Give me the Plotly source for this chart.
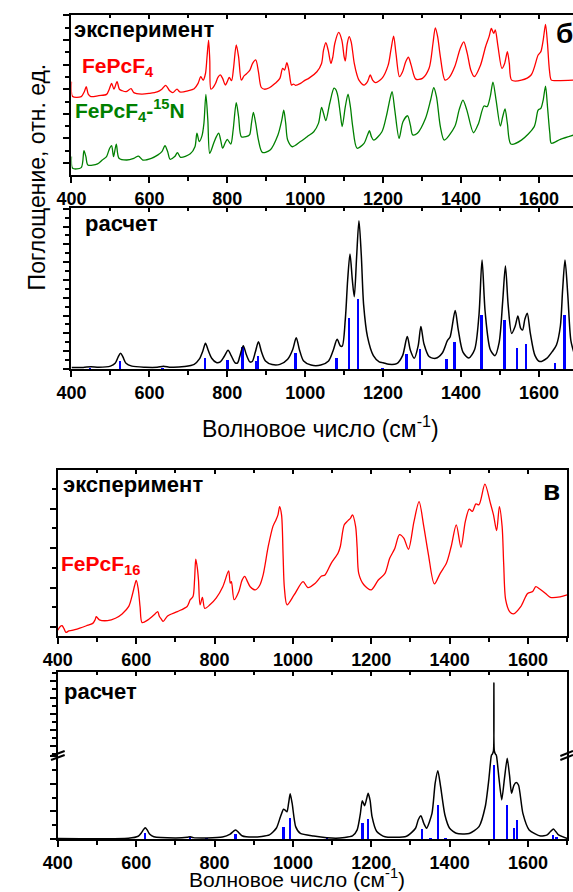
import plotly.graph_objects as go

# ---------------- data ----------------
# Panel б, experiment: FePcF4 (red)
red4_x = [400, 403, 425, 433, 438, 443, 450, 470, 490, 497, 503, 509, 517, 523, 530, 540, 553, 560, 580, 600,
          620, 632, 642, 652, 660, 671, 678, 700, 715, 725, 732, 738, 744, 748, 752, 755, 758, 764, 770, 776,
          782, 788, 795, 800, 805, 811, 816, 823, 829, 836, 843, 850, 858, 865, 873, 880, 887, 895, 908, 923,
          935, 942, 947, 953, 958, 965, 970, 975, 988, 1000, 1009, 1030, 1042, 1047, 1053, 1059, 1066, 1071, 1076, 1086,
          1094, 1100, 1103, 1108, 1113, 1118, 1126, 1133, 1138, 1151, 1160, 1167, 1173, 1180, 1197, 1213, 1220, 1227, 1233, 1242,
          1250, 1258, 1265, 1272, 1284, 1301, 1318, 1328, 1334, 1340, 1347, 1359, 1370, 1384, 1398, 1407, 1416, 1425, 1434, 1450,
          1463, 1472, 1478, 1484, 1488, 1495, 1505, 1512, 1519, 1524, 1530, 1555, 1580, 1598, 1605, 1611, 1617, 1622, 1627, 1632,
          1647, 1690]
red4_y = [3.31, 2.70, 2.70, 2.90, 3.10, 2.80, 2.70, 2.74, 2.79, 3.00, 3.24, 3.00, 3.31, 3.00, 2.94, 2.90, 3.02, 2.86, 2.80, 2.83,
          2.89, 3.00, 3.16, 2.94, 2.86, 3.00, 2.89, 2.94, 3.02, 3.24, 3.51, 3.37, 3.64, 4.32, 5.00, 4.19, 3.00, 3.08, 3.24, 3.48,
          3.58, 3.44, 3.17, 3.31, 3.48, 3.35, 3.85, 4.80, 4.32, 3.37, 3.54, 3.64, 3.78, 4.05, 4.19, 3.71, 3.08, 3.00, 3.06, 3.24,
          3.44, 3.85, 3.78, 4.08, 3.78, 3.17, 3.21, 3.16, 3.24, 3.37, 3.44, 3.71, 4.05, 4.59, 4.89, 4.59, 4.05, 4.32, 4.86, 5.31,
          5.00, 4.32, 4.15, 4.86, 5.14, 4.93, 4.05, 3.58, 3.37, 3.17, 3.31, 3.58, 3.37, 3.27, 3.44, 3.98, 4.59, 5.16, 4.46, 3.51,
          3.71, 4.12, 4.30, 3.98, 3.41, 3.44, 3.85, 4.86, 5.50, 5.14, 4.32, 3.37, 3.48, 3.92, 4.66, 4.93, 4.46, 3.78, 3.51, 3.98,
          4.73, 5.14, 5.47, 5.27, 5.41, 4.73, 3.85, 4.05, 4.53, 4.05, 3.37, 3.37, 3.58, 4.39, 4.53, 5.00, 5.64, 4.86, 3.78, 3.37,
          3.35, 3.37]

# Panel б, experiment: FePcF4-15N (green)
grn_x = [400, 403, 425, 432, 437, 442, 467, 479, 490, 498, 503, 508, 515, 522, 542, 560, 572, 583, 605, 622,
         632, 640, 647, 653, 665, 672, 680, 705, 717, 722, 728, 735, 740, 745, 750, 755, 765, 772, 778, 783,
         788, 795, 800, 809, 815, 823, 829, 836, 848, 857, 862, 867, 873, 880, 890, 910, 930, 940, 945, 950,
         955, 967, 988, 1005, 1022, 1034, 1042, 1047, 1053, 1063, 1074, 1079, 1084, 1090, 1095, 1103, 1110, 1116, 1122, 1133,
         1151, 1160, 1165, 1170, 1176, 1197, 1209, 1217, 1223, 1230, 1241, 1251, 1263, 1270, 1276, 1288, 1309, 1322, 1330, 1337,
         1347, 1357, 1384, 1395, 1405, 1415, 1432, 1445, 1459, 1467, 1475, 1482, 1490, 1501, 1507, 1513, 1519, 1528, 1555, 1588,
         1598, 1605, 1611, 1617, 1622, 1628, 1632, 1655, 1690]
grn_y = [0.26, -0.22, -0.19, 0.50, 0.26, -0.08, -0.04, 0.12, 0.26, 0.60, 0.70, 0.26, 0.77, 0.19, 0.12, 0.19, 0.28, 0.12, 0.19, 0.33,
         0.46, 0.70, 0.46, 0.15, 0.26, 0.42, 0.23, 0.37, 0.66, 1.21, 0.87, 1.10, 1.61, 2.79, 1.75, 0.39, 0.80, 1.07, 1.21, 0.93,
         0.60, 0.83, 0.96, 0.77, 1.34, 2.45, 1.88, 1.07, 1.07, 1.14, 1.61, 2.06, 1.61, 0.93, 0.43, 0.53, 1.14, 1.75, 2.15, 1.61,
         0.93, 0.66, 0.87, 1.07, 1.27, 1.61, 2.26, 2.02, 1.72, 2.43, 3.04, 2.97, 2.70, 2.02, 1.48, 2.29, 2.80, 2.29, 1.48, 0.60,
         0.80, 1.14, 1.31, 1.07, 0.93, 1.27, 1.95, 2.56, 2.90, 2.15, 1.00, 1.68, 1.92, 1.54, 1.14, 1.21, 1.82, 2.56, 3.06, 2.70,
         1.48, 0.93, 1.48, 2.15, 2.56, 2.15, 1.23, 1.61, 2.32, 2.29, 2.70, 3.29, 2.56, 1.50, 1.88, 2.20, 1.61, 0.77, 0.93, 1.48,
         2.15, 2.22, 2.56, 3.13, 2.29, 1.21, 0.80, 0.96, 1.14]

# Panel б, calculation: broadened spectrum (black) and line intensities (blue)
calc4_x = [400, 430, 450, 470, 500, 512, 520, 526, 532, 540, 555, 590, 620, 636, 655, 690, 715, 728, 737, 744,
           751, 760, 772, 782, 792, 802, 810, 820, 826, 832, 841, 849, 858, 864, 872, 880, 888, 898, 915, 935,
           955, 968, 977, 985, 996, 1015, 1040, 1060, 1072, 1082, 1090, 1095, 1103, 1109, 1115, 1121, 1126, 1132, 1138, 1144,
           1150, 1160, 1175, 1190, 1200, 1215, 1235, 1250, 1262, 1270, 1280, 1290, 1297, 1305, 1318, 1335, 1352, 1365, 1372, 1385,
           1393, 1405, 1420, 1435, 1446, 1454, 1462, 1475, 1487, 1498, 1507, 1514, 1521, 1530, 1539, 1546, 1553, 1558, 1564, 1570,
           1578, 1590, 1602, 1620, 1635, 1645, 1655, 1661, 1667, 1674, 1682, 1690]
calc4_y = [0.08, 0.09, 0.13, 0.10, 0.16, 0.32, 0.68, 0.88, 0.68, 0.32, 0.16, 0.10, 0.10, 0.16, 0.10, 0.14, 0.26, 0.55, 1.00, 1.44,
           1.05, 0.60, 0.36, 0.40, 0.70, 1.05, 0.75, 0.35, 0.33, 0.70, 1.31, 0.80, 0.40, 0.42, 0.95, 1.53, 0.95, 0.45, 0.25, 0.26,
           0.55, 1.10, 1.76, 1.10, 0.45, 0.22, 0.22, 0.45, 1.05, 1.67, 1.30, 1.28, 2.80, 5.00, 6.46, 5.00, 4.06, 6.30, 8.33, 6.40,
           3.60, 1.80, 0.75, 0.40, 0.35, 0.26, 0.30, 0.75, 1.82, 1.05, 0.60, 1.30, 2.38, 1.40, 0.70, 0.60, 0.90, 1.59, 1.80, 3.28,
           2.20, 0.95, 0.62, 1.10, 3.00, 6.12, 3.20, 1.10, 0.75, 1.50, 3.80, 5.79, 3.60, 2.00, 2.40, 2.98, 2.30, 2.19, 2.80, 3.13,
           2.00, 0.75, 0.42, 0.60, 1.00, 1.35, 2.40, 4.50, 6.12, 4.20, 1.60, 0.90]
stick4_x = [450, 526, 635, 744, 802, 841, 876, 880, 977, 1082, 1115, 1138, 1200, 1262, 1297, 1365, 1385, 1454, 1514, 1546,
            1569, 1643, 1667]
stick4_y = [0.05, 0.45, 0.05, 0.60, 0.50, 1.25, 0.45, 0.73, 0.88, 0.60, 2.88, 3.91, 0.05, 0.84, 1.10, 0.55, 1.53, 3.03, 2.75, 1.20,
            1.40, 0.32, 3.01]

# Panel в, experiment: FePcF16 (red)
red16_x = [400, 405, 411, 416, 421, 428, 436, 456, 473, 489, 495, 498, 502, 506, 527, 547, 564, 581, 590, 596,
           600, 605, 610, 615, 630, 648, 655, 659, 664, 669, 680, 705, 730, 738, 745, 749, 752, 756, 759, 763,
           769, 775, 788, 804, 821, 836, 840, 843, 850, 862, 870, 877, 884, 891, 904, 915, 924, 937, 949, 957,
           962, 966, 971, 975, 978, 985, 1003, 1026, 1038, 1057, 1073, 1082, 1098, 1115, 1121, 1131, 1140, 1147, 1152, 1160,
           1164, 1168, 1181, 1200, 1218, 1235, 1247, 1260, 1272, 1283, 1295, 1309, 1322, 1334, 1346, 1361, 1376, 1392, 1404, 1417,
           1429, 1440, 1450, 1458, 1467, 1475, 1490, 1504, 1512, 1520, 1527, 1534, 1538, 1543, 1553, 1563, 1582, 1599, 1612, 1620,
           1630, 1645, 1657, 1682, 1700]
red16_y = [-0.08, 0.00, 0.03, -0.05, -0.14, -0.10, -0.09, -0.03, 0.03, 0.09, 0.18, 0.26, 0.22, 0.18, 0.16, 0.22, 0.33, 0.52, 0.81, 1.05,
           1.18, 0.98, 0.50, 0.11, 0.18, 0.33, 0.39, 0.27, 0.20, 0.14, 0.28, 0.39, 0.52, 0.69, 0.77, 1.20, 1.72, 1.50, 1.19, 0.56,
           0.75, 0.47, 0.56, 0.73, 1.02, 1.42, 1.11, 1.15, 0.69, 0.90, 1.18, 1.28, 1.15, 1.02, 0.94, 1.05, 1.32, 2.04, 2.55, 2.72,
           2.85, 3.05, 2.84, 1.80, 1.02, 0.56, 0.81, 1.15, 1.00, 1.11, 1.29, 1.32, 1.62, 1.87, 2.04, 2.59, 2.69, 2.76, 2.84, 2.55,
           2.00, 1.36, 1.07, 0.94, 1.19, 1.36, 1.74, 1.99, 2.34, 2.25, 1.97, 2.67, 3.18, 2.55, 1.83, 1.09, 1.36, 1.62, 2.04, 2.59,
           2.02, 2.67, 2.99, 2.93, 3.12, 3.10, 3.62, 3.14, 2.84, 2.44, 3.05, 2.55, 1.60, 0.69, 0.39, 0.33, 0.52, 0.85, 0.90, 1.02,
           0.96, 0.85, 0.75, 0.76, 0.81]

# Panel в, calculation
calc16_x = [400, 580, 605, 613, 618, 623, 628, 634, 645, 700, 730, 738, 746, 780, 820, 840, 848, 854, 860, 870,
            900, 940, 958, 968, 976, 980, 985, 989, 993, 998, 1007, 1019, 1053, 1110, 1152, 1164, 1172, 1177, 1183, 1188,
            1192, 1197, 1202, 1214, 1235, 1290, 1313, 1320, 1327, 1334, 1341, 1355, 1363, 1370, 1377, 1388, 1400, 1417, 1450, 1475,
            1491, 1500, 1506, 1509, 1512, 1513, 1514, 1517, 1520, 1526, 1533, 1540, 1547, 1553, 1558, 1564, 1570, 1576, 1587, 1603,
            1632, 1649, 1658, 1665, 1672, 1678, 1700]
calc16_y = [0.02, 0.03, 0.10, 0.22, 0.33, 0.41, 0.33, 0.18, 0.08, 0.04, 0.06, 0.08, 0.05, 0.04, 0.07, 0.18, 0.28, 0.33, 0.26, 0.12,
            0.07, 0.15, 0.40, 0.80, 1.08, 1.05, 0.99, 1.30, 1.64, 1.30, 0.45, 0.20, 0.11, 0.03, 0.11, 0.33, 0.90, 1.39, 1.21, 1.45,
            1.66, 1.40, 0.81, 0.27, 0.08, 0.10, 0.39, 0.70, 0.84, 0.57, 0.39, 0.93, 2.02, 2.48, 1.90, 0.87, 0.39, 0.21, 0.20, 0.45,
            1.18, 2.15, 2.99, 3.15, 3.60, 12.0, 3.60, 3.15, 2.99, 2.20, 1.42, 2.20, 2.93, 2.30, 1.66, 1.95, 2.05, 1.95, 0.93, 0.33,
            0.11, 0.15, 0.28, 0.36, 0.25, 0.15, 0.02]
stick16_x = [623, 738, 780, 854, 976, 993, 1087, 1178, 1192, 1330, 1351, 1370, 1390, 1513, 1547, 1564, 1572, 1664, 1673]
stick16_y = [0.23, 0.06, 0.03, 0.17, 0.45, 0.75, 0.03, 0.57, 0.73, 0.36, 0.03, 1.24, 0.03, 2.69, 1.24, 0.39, 0.69, 0.15, 0.05]

x_ticks = [400, 600, 800, 1000, 1200, 1400, 1600]

# ---------------- figure ----------------
W, H = 573, 892
FONT = "Liberation Sans, Arial, sans-serif"


def px(x):
    return x / W


def py(y):
    return 1 - y / H


fig = go.Figure()

LW = 1.3
SPL = dict(shape="spline", smoothing=0.8)
fig.add_trace(go.Scatter(x=red4_x, y=red4_y, mode="lines", line=dict(color="#ff0000", width=LW, **SPL),
                         xaxis="x", yaxis="y", showlegend=False))
fig.add_trace(go.Scatter(x=grn_x, y=grn_y, mode="lines", line=dict(color="#008000", width=LW, **SPL),
                         xaxis="x", yaxis="y", showlegend=False))
fig.add_trace(go.Bar(x=stick4_x, y=stick4_y, width=5, marker=dict(color="#0000ff", line=dict(width=0)),
                     xaxis="x2", yaxis="y2", showlegend=False))
fig.add_trace(go.Scatter(x=calc4_x, y=calc4_y, mode="lines", line=dict(color="black", width=1.5, **SPL),
                         xaxis="x2", yaxis="y2", showlegend=False))
fig.add_trace(go.Scatter(x=red16_x, y=red16_y, mode="lines", line=dict(color="#ff0000", width=LW, **SPL),
                         xaxis="x3", yaxis="y3", showlegend=False))
fig.add_trace(go.Bar(x=stick16_x, y=stick16_y, width=5, marker=dict(color="#0000ff", line=dict(width=0)),
                     xaxis="x4", yaxis="y4", showlegend=False))
fig.add_trace(go.Scatter(x=calc16_x, y=calc16_y, mode="lines", line=dict(color="black", width=1.5, shape="spline", smoothing=0.6),
                         xaxis="x4", yaxis="y4", showlegend=False))
fig.add_trace(go.Scatter(x=calc16_x, y=calc16_y, mode="lines", line=dict(color="black", width=1.5, shape="spline", smoothing=0.6),
                         xaxis="x5", yaxis="y5", showlegend=False))
# empty traces that carry the inside-pointing top tick axes
for xa, ya in [("x6", "y"), ("x7", "y2"), ("x8", "y3")]:
    fig.add_trace(go.Scatter(x=[], y=[], mode="lines", xaxis=xa, yaxis=ya, showlegend=False, hoverinfo="skip"))

tickfont = dict(family=FONT, size=18, color="black", weight="bold")
xcommon = dict(tickmode="array", tickvals=x_ticks, ticks="outside", ticklen=6, tickwidth=2, tickcolor="black",
               minor=dict(dtick=100, tick0=400, ticks="outside", ticklen=4, tickwidth=2, tickcolor="black"),
               showline=True, linewidth=2, linecolor="black", showgrid=False, zeroline=False, tickfont=tickfont)
topcommon = dict(tickmode="array", tickvals=x_ticks, ticks="inside", ticklen=4, tickwidth=1.5, tickcolor="black",
                 minor=dict(dtick=100, tick0=400, ticks="inside", ticklen=3, tickwidth=1.5, tickcolor="black"),
                 side="top", showticklabels=False, showgrid=False, zeroline=False)
ycommon = dict(ticks="outside", ticklen=6, tickwidth=2, tickcolor="black", showticklabels=False,
               showline=True, linewidth=2, linecolor="black", showgrid=False, zeroline=False)
yminor = dict(dtick=0.5, ticks="outside", ticklen=4, tickwidth=2, tickcolor="black")

d12 = [px(58), 1.0]
d34 = [px(44), px(567)]

fig.update_layout(
    width=W, height=H, margin=dict(l=0, r=0, t=0, b=0),
    paper_bgcolor="white", plot_bgcolor="white", bargap=0, barmode="overlay",
    font=dict(family=FONT, color="black"),
    xaxis=dict(domain=d12, anchor="y", range=[400, 1687.5], mirror=True, **xcommon),
    yaxis=dict(domain=[py(175), py(15)], anchor="x", range=[-0.49, 6.02], tick0=0, dtick=1, minor=yminor, **ycommon),
    xaxis2=dict(domain=d12, anchor="y2", range=[400, 1687.5], mirror=True, **xcommon),
    yaxis2=dict(domain=[py(369), py(208)], anchor="x2", range=[0, 9.04], tick0=0, dtick=1, minor=yminor, **ycommon),
    xaxis3=dict(domain=d34, anchor="y3", range=[400, 1700], mirror=True, **xcommon),
    yaxis3=dict(domain=[py(636), py(470)], anchor="x3", range=[-0.23, 3.98], tick0=0, dtick=1, mirror=True,
                minor=yminor, **ycommon),
    xaxis4=dict(domain=d34, anchor="y4", range=[400, 1700], **xcommon),
    yaxis4=dict(domain=[py(839), py(755)], anchor="x4", range=[0, 3.05], tick0=0, dtick=1, mirror=True,
                minor=yminor, **ycommon),
    xaxis5=dict(domain=d34, anchor="y5", range=[400, 1700], matches="x4", showline=True, linewidth=2,
                linecolor="black", **topcommon),
    yaxis5=dict(domain=[py(755), py(672)], anchor="x5", range=[3.05, 13.37], tick0=4.2, dtick=2, mirror=True,
                minor=dict(dtick=1, tick0=4.2, ticks="outside", ticklen=4, tickwidth=2, tickcolor="black"), **ycommon),
    xaxis6=dict(overlaying="x", anchor="y", range=[400, 1687.5], showline=False, **topcommon),
    xaxis7=dict(overlaying="x2", anchor="y2", range=[400, 1687.5], showline=False, **topcommon),
    xaxis8=dict(overlaying="x3", anchor="y3", range=[400, 1700], showline=False, **topcommon),
)


def ann(text, x, y, size, color="black", bold=True, angle=0):
    fig.add_annotation(text=text, x=px(x), y=py(y), xref="paper", yref="paper", xanchor="center", yanchor="middle",
                       showarrow=False, textangle=angle, borderpad=0,
                       font=dict(family=FONT, size=size, color=color, weight="bold" if bold else "normal"))


# positions are the centres of the texts
ann("эксперимент", 132, 30, 22)
ann("FePcF<sub>4</sub>", 106, 67, 21, color="#ff0000")
ann("FePcF<sub>4</sub>-<sup>15</sup>N", 118, 110, 21, color="#008000")
ann("б", 564, 33, 28)
ann("расчет", 109, 223, 22)
ann("Поглощение, отн. ед.", 23, 177, 23, bold=False, angle=-90)
ann("Волновое число (см<sup>-1</sup>)", 314, 427, 23, bold=False)
ann("эксперимент", 121, 485, 22)
ann("FePcF<sub>16</sub>", 88, 565, 21, color="#ff0000")
ann("в", 551, 490, 28)
ann("расчет", 88, 691, 22)
ann("Волновое число (см<sup>-1</sup>)", 290, 878, 21, bold=False)

# axis-break marks
for (x0, y0, x1, y1) in [(37, 756, 51, 751), (37, 760, 51, 755), (560, 756, 573, 751), (560, 760, 573, 755)]:
    fig.add_shape(type="line", xref="paper", yref="paper", x0=px(x0), y0=py(y0), x1=px(x1), y1=py(y1),
                  line=dict(color="black", width=2))

fig.write_html("out.html")
